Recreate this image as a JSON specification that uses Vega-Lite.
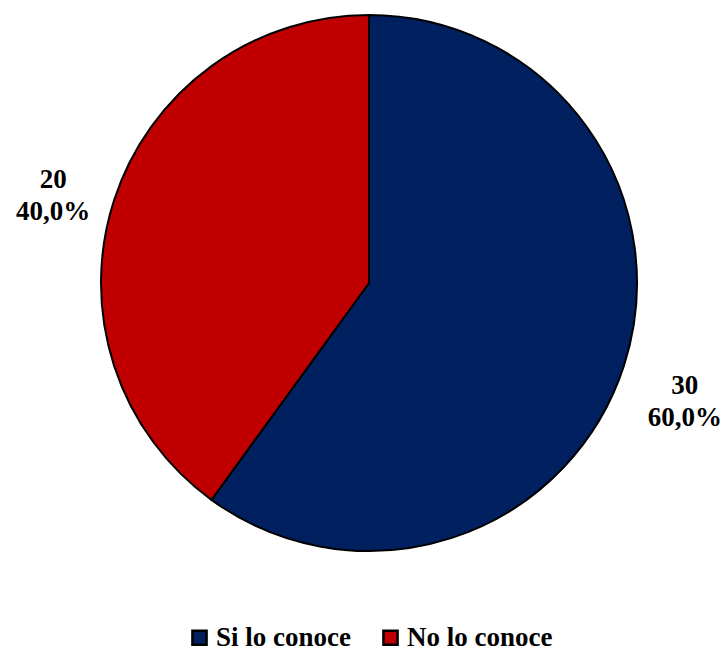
{
  "$schema": "https://vega.github.io/schema/vega-lite/v6.json",
  "width": 718,
  "height": 566,
  "padding": {"left": 10, "top": 0, "right": 0, "bottom": 0},
  "background": "white",
  "config": {
    "font": "Liberation Serif",
    "legend": {"layout": {"bottom": {"anchor": "middle"}}}
  },
  "data": {
    "values": [
      {"categoria": "Si lo conoce", "n": 30, "label": "30\n60,0%", "orden": 1},
      {"categoria": "No lo conoce", "n": 20, "label": "20\n40,0%", "orden": 2}
    ]
  },
  "encoding": {
    "theta": {"field": "n", "type": "quantitative", "stack": true},
    "order": {"field": "orden", "type": "quantitative"}
  },
  "layer": [
    {
      "mark": {"type": "arc", "radius": 268, "stroke": "black", "strokeWidth": 2},
      "encoding": {
        "color": {
          "field": "categoria",
          "type": "nominal",
          "scale": {"domain": ["Si lo conoce", "No lo conoce"], "range": ["#002060", "#C00000"]},
          "legend": {
            "orient": "bottom",
            "direction": "horizontal",
            "title": null,
            "offset": 58,
            "symbolType": "square",
            "symbolSize": 200,
            "symbolStrokeColor": "black",
            "symbolStrokeWidth": 2.5,
            "labelFont": "Liberation Serif",
            "labelFontWeight": "bold",
            "labelFontSize": 27,
            "labelColor": "black",
            "columnPadding": 26,
            "labelOffset": 3,
            "labelLimit": 300
          }
        }
      }
    },
    {
      "mark": {
        "type": "text",
        "radius": 332,
        "lineBreak": "\n",
        "font": "Liberation Serif",
        "fontWeight": "bold",
        "fontSize": 27,
        "lineHeight": 32,
        "align": "center",
        "baseline": "middle",
        "color": "black"
      },
      "encoding": {"text": {"field": "label"}}
    }
  ]
}
